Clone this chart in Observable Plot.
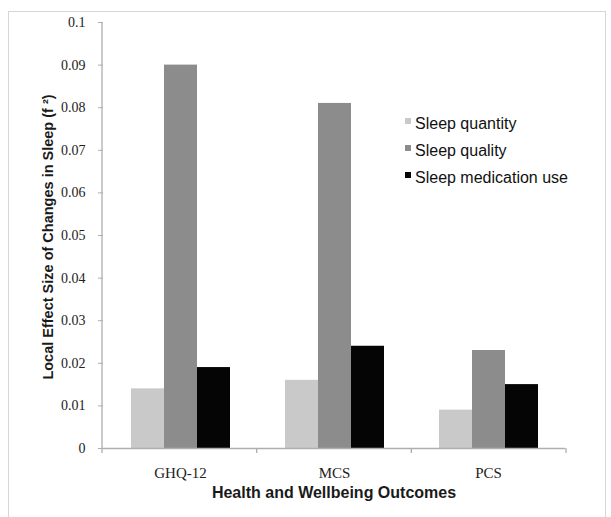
<!DOCTYPE html>
<html><head><meta charset="utf-8">
<script src="https://cdn.jsdelivr.net/npm/d3@7"></script>
<script src="https://cdn.jsdelivr.net/npm/@observablehq/plot@0.6"></script>
<style>
body{margin:0;background:#fff;}
#wrap{position:relative;width:611px;height:517px;overflow:hidden;background:#fff;}
#frame{position:absolute;left:8px;top:11px;width:596px;height:520px;border:1px solid #d6d6d6;border-bottom:none;}
#chart{position:absolute;left:0;top:0;}
#legend{position:absolute;left:405px;top:114px;font:16px "Liberation Sans",Arial,sans-serif;color:#111;}
.item{position:relative;height:27px;padding-left:10px;line-height:20px;white-space:nowrap;}
.sw{position:absolute;left:0;top:4px;width:6px;height:6px;}
</style></head>
<body>
<div id="wrap"><div id="frame"></div><div id="chart"></div><div id="legend"></div></div>
<script>
const outcomes = ["GHQ-12", "MCS", "PCS"];
const series = ["Sleep quantity", "Sleep quality", "Sleep medication use"];
const quantity = [0.014, 0.016, 0.009];
const quality = [0.090, 0.081, 0.023];
const medication = [0.019, 0.024, 0.015];
const colors = ["#c9c9c9", "#8c8c8c", "#050505"];
const yTicks = [0, 0.01, 0.02, 0.03, 0.04, 0.05, 0.06, 0.07, 0.08, 0.09, 0.1];
const yTickLabels = ["0", "0.01", "0.02", "0.03", "0.04", "0.05", "0.06", "0.07", "0.08", "0.09", "0.1"];
const xTitle = "Health and Wellbeing Outcomes";
const yTitle = "Local Effect Size of Changes in Sleep (f \u00B2)";

const seriesValues = [quantity, quality, medication];
const data = outcomes.flatMap((o, i) => series.map((s, j) => ({outcome: o, series: s, value: seriesValues[j][i]})));

const axisColor = "#b3acac";
const chart = Plot.plot({
  width: 611, height: 517,
  marginLeft: 102, marginRight: 45, marginTop: 22, marginBottom: 69,
  style: {background: "transparent", fontFamily: "'Liberation Serif', serif", fontSize: "14px", color: "#222"},
  fx: {domain: outcomes, padding: 0, label: null},
  x: {domain: series, paddingInner: 0, paddingOuter: 0.78, axis: null},
  y: {domain: [0, 0.1]},
  color: {domain: series, range: colors},
  marks: [
    Plot.barY(data, {fx: "outcome", x: "series", y: "value", fill: "series"}),
    Plot.ruleY([0], {stroke: axisColor, strokeWidth: 1.3}),
    Plot.axisY({ticks: yTicks, tickFormat: (d, i) => yTickLabels[yTicks.indexOf(d)], tickSize: 5, tickPadding: 13, label: null, stroke: axisColor, fill: "#222", fontSize: 14}),
    Plot.axisFx({anchor: "bottom", tickSize: 0, tickPadding: 19, label: null, fill: "#222", fontSize: 15})
  ]
});
document.getElementById("chart").appendChild(chart);

const svg = d3.select(chart);
const fxS = chart.scale("fx");
const yS = chart.scale("y");
const fxScale = d3.scaleBand().domain(fxS.domain).range(fxS.range).paddingInner(fxS.paddingInner ?? 0).paddingOuter(fxS.paddingOuter ?? 0).align(fxS.align ?? 0.5);
const yScale = d3.scaleLinear().domain(yS.domain).range(yS.range);
const y0 = yScale(0), yTop = yScale(0.1);
const xLeft = fxScale(outcomes[0]);
const g = svg.append("g").attr("stroke", axisColor).attr("stroke-width", 1.3);
g.append("line").attr("x1", xLeft).attr("x2", xLeft).attr("y1", yTop).attr("y2", y0);
[xLeft, ...outcomes.map(o => fxScale(o) + fxScale.bandwidth())].forEach(x => {
  g.append("line").attr("x1", x).attr("x2", x).attr("y1", y0).attr("y2", y0 + 5);
});
const xMid = (fxScale.range()[0] + fxScale.range()[1]) / 2;
svg.append("text").attr("x", xMid).attr("y", 498).attr("text-anchor", "middle")
  .attr("font-family", "'Liberation Sans', Arial, sans-serif").attr("font-weight", "bold").attr("font-size", 16).attr("fill", "#1a1a1a").text(xTitle);
svg.append("text").attr("transform", `translate(53,${(yTop + y0) / 2 + 2}) rotate(-90)`).attr("text-anchor", "middle")
  .attr("font-family", "'Liberation Sans', Arial, sans-serif").attr("font-weight", "bold").attr("font-size", 14.5).attr("fill", "#1a1a1a").text(yTitle);

const legend = d3.select("#legend");
series.forEach((s, i) => {
  const it = legend.append("div").attr("class", "item");
  it.append("div").attr("class", "sw").style("background", colors[i]);
  it.append("span").text(s);
});
</script>
</body></html>
